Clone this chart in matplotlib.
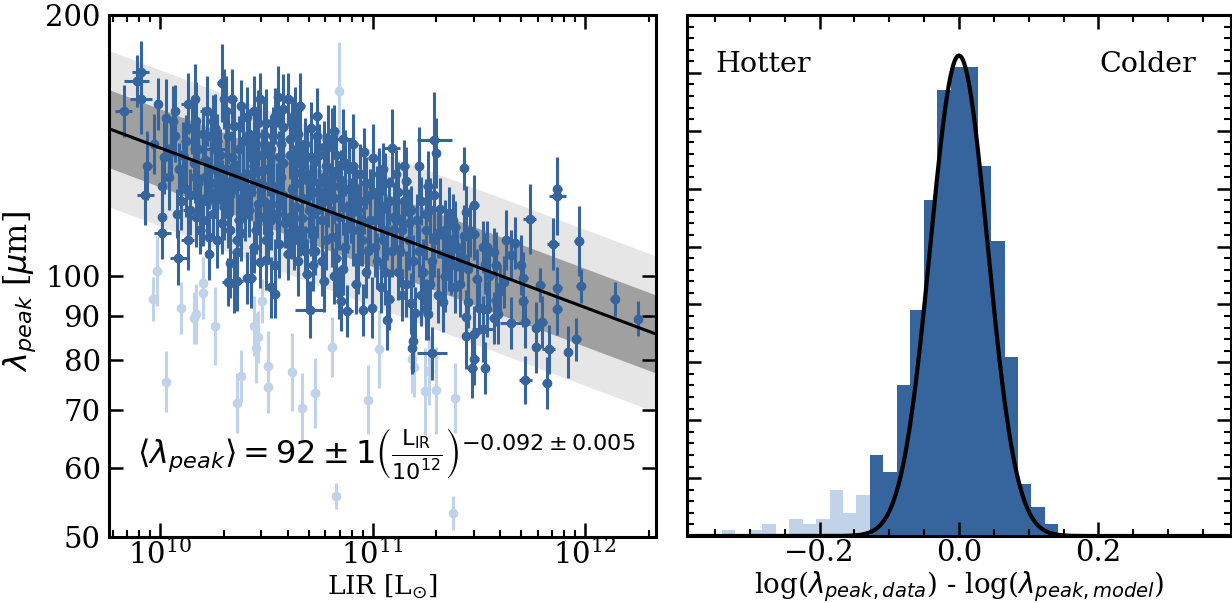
import numpy as np
import matplotlib
matplotlib.use("Agg")
import matplotlib.pyplot as plt
from matplotlib.ticker import FixedLocator, NullLocator, NullFormatter, MultipleLocator, LogLocator

# ---------------- data ----------------
fit_norm = 92.0
fit_slope = -0.092
band_1sig = 0.045   # dex
band_2sig = 0.09    # dex

dark_logL = [
 9.83, 9.89, 9.91, 9.91, 9.94, 9.93, 9.99, 9.97,
 10.01, 10.01, 10.01, 10.085, 10.06, 10.07, 10.03, 10.09, 10.05, 10.08, 10.04, 10.07, 10.10, 10.02,
 10.12, 10.13, 10.165, 10.165, 10.14, 10.19, 10.17, 10.15, 10.11, 10.18, 10.12, 10.16, 10.19, 10.13, 10.20, 10.18, 10.14, 10.17,
 10.29, 10.30, 10.25, 10.23, 10.27, 10.22, 10.24, 10.26, 10.21, 10.28, 10.23, 10.27, 10.22, 10.25, 10.29, 10.21, 10.26, 10.28, 10.24, 10.20, 10.30, 10.27, 10.23, 10.26, 10.29,
 10.34, 10.35, 10.33, 10.33, 10.36, 10.35, 10.32, 10.36, 10.31, 10.38, 10.32, 10.37, 10.34, 10.31, 10.39, 10.36, 10.33, 10.38, 10.32, 10.37, 10.35, 10.39, 10.31, 10.36, 10.40, 10.34, 10.38,
 10.47, 10.41, 10.49, 10.41, 10.43, 10.47, 10.42, 10.45, 10.48, 10.44, 10.41, 10.46, 10.43, 10.49, 10.42, 10.47, 10.45, 10.50, 10.44, 10.48, 10.43, 10.46, 10.40, 10.49, 10.44, 10.46,
 10.555, 10.60, 10.58, 10.58, 10.50, 10.54, 10.54, 10.52, 10.52, 10.56, 10.51, 10.57, 10.53, 10.58, 10.52, 10.55, 10.59, 10.51, 10.56, 10.60, 10.53, 10.57, 10.55, 10.52, 10.58, 10.50, 10.54, 10.56,
 10.635, 10.67, 10.69, 10.62, 10.65, 10.68, 10.61, 10.66, 10.63, 10.69, 10.62, 10.67, 10.64, 10.61, 10.66, 10.63, 10.68, 10.65, 10.61, 10.69, 10.64, 10.66, 10.70, 10.62, 10.67, 10.64,
 10.72, 10.706, 10.77, 10.79, 10.71, 10.74, 10.77, 10.73, 10.78, 10.71, 10.75, 10.72, 10.79, 10.74, 10.76, 10.71, 10.78, 10.73, 10.76, 10.80, 10.75, 10.72, 10.77, 10.74,
 10.81, 10.86, 10.82, 10.84, 10.85, 10.88, 10.83, 10.87, 10.81, 10.85, 10.89, 10.82, 10.86, 10.84, 10.88, 10.81, 10.87, 10.83, 10.86, 10.89, 10.84, 10.90, 10.82,
 10.955, 10.998, 11.00, 10.91, 10.94, 10.97, 10.92, 10.96, 10.93, 10.99, 10.91, 10.95, 10.98, 10.93, 10.97, 10.92, 10.96, 10.94, 10.99, 10.91,
 11.07, 11.09, 11.03, 11.06, 11.02, 11.08, 11.04, 11.01, 11.07, 11.05, 11.09, 11.02, 11.06, 11.04, 11.08, 11.03, 11.10, 11.05, 11.01,
 11.16, 11.19, 11.185, 11.20, 11.12, 11.15, 11.18, 11.11, 11.14, 11.17, 11.13, 11.19, 11.12, 11.16, 11.14, 11.18, 11.11, 11.17, 11.15,
 11.22, 11.26, 11.29, 11.30, 11.26, 11.25, 11.28, 11.23, 11.27, 11.21, 11.25, 11.29, 11.22, 11.28, 11.24, 11.27, 11.23, 11.29, 11.25,
 11.32, 11.36, 11.38, 11.33, 11.39, 11.31, 11.35, 11.33, 11.37, 11.34, 11.39, 11.31, 11.36, 11.38, 11.34,
 11.43, 11.48, 11.44, 11.46, 11.43, 11.48, 11.42, 11.41, 11.45, 11.49, 11.44, 11.50, 11.48, 11.44, 11.48, 11.47, 11.40, 11.45,
 11.52, 11.53, 11.54, 11.57, 11.58, 11.58, 11.59, 11.57, 11.54, 11.52, 11.53, 11.55,
 11.62, 11.63, 11.67, 11.65, 11.65, 11.70, 11.60,
 11.71, 11.71, 11.72, 11.74, 11.77, 11.77, 11.72, 11.79, 11.80, 11.82, 11.83, 11.85, 11.87, 11.87, 11.87, 11.87, 11.92, 11.96, 11.97, 11.98, 12.14, 12.25,
]

dark_lam = [
 155, 168, 172, 160, 134, 124, 158, 142,
 127, 117, 112, 105, 151, 155, 152, 133, 140, 118, 130, 145, 122, 137,
 143, 158, 160, 130, 119, 121, 151, 148, 138, 140, 126, 135, 113, 110, 146, 128, 124, 117,
 167, 160, 151, 111, 110, 155, 145, 140, 136, 132, 128, 125, 122, 118, 115, 130, 148, 138, 133, 116, 120, 143, 106, 128, 124,
 160, 149, 113, 103.5, 106.5, 98.2, 98.4, 98.7, 155, 157, 145, 140, 137, 133, 130, 127, 124, 121, 118, 116, 134, 143, 127, 110, 124, 129, 112,
 160, 152.5, 145.5, 99.5, 99.6, 103.9, 146, 142, 138, 134, 131, 128, 125, 122, 119, 117, 113, 110, 108, 132, 137, 150, 118, 127, 155, 121,
 161, 160, 156, 148.7, 104.4, 103, 95.4, 97, 140, 137, 133, 130, 127, 124, 121, 118, 115, 112, 109, 106, 145, 142, 126, 116, 135, 150, 153, 121,
 154, 116.6, 100.5, 150, 146, 142, 138, 135, 132, 129, 126, 123, 120, 117, 113, 110, 107, 104, 144, 137, 128, 157, 119, 112, 131, 139,
 103.1, 91.4, 98.6, 143.8, 148, 145, 141, 137, 134, 131, 128, 125, 122, 119, 116, 113, 110, 107, 104, 126, 138, 118, 130, 153,
 141, 143.8, 147, 95.5, 93.7, 91.1, 138, 135, 132, 129, 126, 123, 120, 117, 114, 111, 108, 105, 102, 133, 127, 119, 100,
 91.4, 91.9, 136.7, 134, 131, 128, 125, 122, 119, 116, 113, 110, 107, 104, 101, 98, 139, 115, 124, 142,
 89, 140.5, 131, 128, 125, 122, 119, 116, 113, 110, 107, 104, 101, 97, 94, 121, 117, 133, 108,
 128.6, 84.1, 82.5, 90.7, 125, 122, 119, 116, 113, 110, 107, 104, 101, 98, 95, 93, 131, 115, 134,
 134, 127, 143.5, 138.6, 90.4, 91.5, 81.4, 122, 119, 116, 113, 110, 107, 104, 101, 98, 95, 124, 118,
 119.6, 118.1, 115.9, 93.3, 114, 112, 109, 106, 103, 100, 97, 95, 105, 110, 113,
 133.1, 120.8, 118.6, 112.8, 111.3, 111.9, 105.3, 98, 93.4, 99.1, 89.6, 91.9, 85.7, 85.2, 80.3, 78.4, 108, 102,
 108, 103.3, 107.9, 106.6, 103, 93.8, 90.5, 89.5, 91.6, 86.9, 78.3, 100,
 98.5, 110, 109.2, 105.8, 88.2, 103, 96,
 99.4, 93.5, 88.6, 116.3, 87, 82.9, 75.9, 97.6, 88.6, 75.2, 82.3, 108.9, 125.9, 123.7, 96.8, 91.6, 81.7, 84.5, 109.7, 97.4, 94.1, 89.3,
]

# y errors in milli-dex
dark_yerr = [
 30, 30, 35, 40, 40, 35, 30, 35,
 35, 28, 30, 32, 40, 30, 45, 30, 35, 28, 38, 30, 33, 42,
 30, 35, 40, 30, 28, 35, 45, 30, 38, 30, 32, 40, 28, 35, 30, 42, 30, 35,
 45, 35, 30, 30, 32, 40, 30, 35, 28, 38, 30, 33, 42, 30, 35, 28, 40, 30, 35, 30, 38, 32, 30, 35, 40,
 35, 30, 30, 40, 30, 35, 28, 35, 40, 30, 32, 38, 30, 35, 42, 30, 28, 35, 40, 30, 33, 38, 30, 35, 30, 40, 32,
 30, 35, 40, 30, 35, 30, 28, 38, 30, 35, 42, 30, 32, 38, 30, 35, 28, 40, 30, 35, 30, 38, 32, 30, 40, 35,
 35, 30, 40, 30, 35, 30, 28, 35, 40, 30, 32, 38, 30, 35, 42, 30, 28, 35, 40, 30, 33, 38, 30, 35, 30, 40, 32, 30,
 30, 35, 40, 30, 35, 30, 28, 38, 30, 35, 42, 30, 32, 38, 30, 35, 28, 40, 30, 35, 30, 38, 32, 30, 40, 35,
 30, 33, 35, 40, 30, 35, 30, 28, 38, 30, 35, 42, 30, 32, 38, 30, 35, 28, 40, 30, 35, 30, 38, 32,
 45, 35, 30, 30, 35, 30, 28, 38, 30, 35, 42, 30, 32, 38, 30, 35, 28, 40, 30, 35, 30, 38, 32,
 30, 35, 40, 30, 35, 30, 28, 38, 30, 35, 42, 30, 32, 38, 30, 35, 28, 40, 30, 35,
 35, 45, 30, 35, 30, 28, 38, 30, 35, 42, 30, 32, 38, 30, 35, 28, 40, 30, 35,
 40, 35, 30, 30, 35, 30, 28, 38, 30, 35, 42, 30, 32, 38, 30, 35, 28, 40, 30,
 45, 40, 55, 40, 30, 35, 30, 28, 38, 30, 35, 42, 30, 32, 38, 30, 35, 28, 40,
 35, 30, 30, 35, 30, 28, 38, 30, 35, 42, 30, 32, 38, 30, 35,
 25, 35, 30, 30, 35, 30, 28, 38, 30, 35, 32, 30, 32, 38, 30, 35, 28, 40,
 30, 35, 30, 28, 38, 30, 35, 30, 32, 38, 30, 35,
 30, 35, 30, 28, 30, 35, 30,
 30, 30, 30, 40, 30, 30, 28, 20, 30, 30, 28, 30, 30, 45, 25, 30, 30, 25, 40, 20, 20, 20,
]

# x errors in milli-dex
dark_xerr = [
 40, 60, 40, 50, 20, 40, 20, 20,
 20, 20, 40, 40, 20, 20, 20, 20, 20, 20, 20, 20, 20, 20,
 20, 30, 20, 20, 30, 20, 20, 20, 20, 40, 20, 20, 20, 30, 20, 20, 20, 20,
 20, 20, 20, 20, 20, 30, 20, 50, 20, 20, 20, 20, 20, 20, 20, 30, 20, 20, 20, 20, 20, 20, 20, 20, 20,
 20, 20, 20, 20, 20, 20, 30, 30, 20, 20, 20, 20, 20, 40, 20, 20, 20, 20, 20, 20, 20, 20, 20, 20, 20, 20, 20,
 20, 20, 20, 20, 20, 20, 20, 20, 20, 20, 20, 30, 20, 20, 20, 20, 20, 20, 20, 20, 20, 20, 20, 20, 20, 20,
 20, 20, 20, 20, 20, 20, 20, 20, 20, 20, 20, 20, 20, 20, 20, 20, 20, 20, 20, 20, 20, 20, 20, 20, 20, 20, 20, 20,
 20, 30, 20, 20, 20, 20, 20, 20, 20, 20, 20, 20, 20, 20, 20, 20, 20, 20, 20, 20, 20, 20, 20, 20, 20, 20,
 20, 70, 20, 30, 20, 20, 20, 20, 20, 20, 20, 20, 20, 20, 20, 20, 20, 20, 20, 20, 20, 20, 20, 20,
 20, 50, 20, 20, 20, 30, 20, 20, 20, 20, 20, 20, 20, 20, 20, 20, 20, 20, 20, 20, 20, 20, 20,
 20, 20, 20, 20, 20, 20, 20, 20, 20, 20, 20, 20, 20, 20, 20, 20, 20, 20, 20, 20,
 20, 40, 20, 20, 20, 20, 20, 20, 20, 20, 20, 20, 20, 20, 20, 20, 20, 20, 20,
 20, 20, 20, 20, 20, 20, 20, 20, 20, 20, 20, 20, 20, 20, 20, 20, 20, 20, 20,
 20, 20, 82, 20, 20, 20, 70, 20, 20, 20, 20, 20, 20, 20, 20, 20, 20, 20, 20,
 20, 20, 20, 20, 20, 20, 20, 20, 20, 20, 20, 20, 20, 20, 20,
 20, 20, 20, 20, 20, 20, 20, 20, 20, 20, 20, 20, 20, 20, 20, 20, 20, 20,
 20, 20, 20, 20, 20, 20, 20, 20, 20, 50, 20, 20,
 20, 20, 20, 20, 50, 20, 20,
 20, 20, 20, 30, 20, 20, 30, 20, 20, 20, 30, 30, 20, 40, 20, 20, 20, 20, 20, 20, 20, 20,
]

light_logL = [9.967, 9.986, 10.03, 10.10, 10.16, 10.17, 10.20, 10.20, 10.26, 10.36, 10.38,
              10.44, 10.45, 10.46, 10.48, 10.51, 10.51, 10.62, 10.67, 10.73, 10.81, 10.828,
              10.98, 11.03, 11.186, 11.195, 11.247, 11.266, 11.30, 11.39, 11.38, 10.842]
light_lam = [94.1, 101.3, 75.5, 91.9, 89.4, 90.4, 95.6, 98.2, 87.6, 71.4, 76.7,
             87.6, 82.6, 85.1, 93.6, 78.8, 74.5, 77.5, 70.4, 73.3, 82.8, 55.7,
             72.0, 82.3, 80.3, 78.6, 73.6, 77.8, 73.8, 72.3, 53.3, 163.4]
light_yerr = [25, 40, 35, 30, 30, 35, 30, 30, 45, 35, 30,
              35, 40, 30, 25, 40, 30, 45, 40, 40, 35, 15,
              40, 45, 40, 35, 50, 40, 50, 40, 20, 57]

# histogram of residuals (counts per bin)
hist_light = [1, 0, 1, 2, 0, 3, 2, 3, 8, 4, 7, 0, 0, 0, 0, 0, 0, 0, 0, 0, 0, 0, 0, 0, 0]
hist_dark = [0, 0, 0, 0, 0, 0, 0, 0, 0, 0, 0, 14, 11, 26, 39, 58, 77, 81, 81, 64, 51, 31, 9, 5, 2]
hist_start = -0.340
hist_binw = 0.0193
gauss_amp = 83.0
gauss_mu = 0.0
gauss_sigma = 0.041

assert len(dark_logL) == len(dark_lam) == len(dark_yerr) == len(dark_xerr)
assert len(light_logL) == len(light_lam) == len(light_yerr)

# ---------------- style ----------------
plt.rcParams['font.family'] = ['DejaVu Serif']
plt.rcParams['mathtext.fontset'] = 'dejavusans'
plt.rcParams['axes.linewidth'] = 2.2

DARK = '#36659d'
LIGHT = '#c1d3e9'
TICKFS = 21

fig = plt.figure(figsize=(12.32, 6.03), dpi=100)
ax1 = fig.add_axes([109/1232, 66/603, 547/1232, 522/603])
ax2 = fig.add_axes([687/1232, 67/603, 544/1232, 521/603])

# ---------------- left panel ----------------
def model(L):
    return fit_norm * (L / 1e12) ** fit_slope

Lgrid = np.logspace(9.5, 12.6, 200)
mg = model(Lgrid)
ax1.fill_between(Lgrid, mg * 10**(-band_2sig), mg * 10**band_2sig, color='#e6e6e6', lw=0, zorder=0)
ax1.fill_between(Lgrid, mg * 10**(-band_1sig), mg * 10**band_1sig, color='#a0a0a0', lw=0, zorder=0.5)

lL = np.array(light_logL); lm = np.array(light_lam); le = np.array(light_yerr) / 1000.
ax1.errorbar(10**lL, lm, yerr=[lm * (1 - 10**(-le)), lm * (10**le - 1)],
             fmt='o', color=LIGHT, ms=6, elinewidth=2.2, capsize=0, zorder=1)

dL = np.array(dark_logL); dm = np.array(dark_lam)
dy = np.array(dark_yerr) / 1000.; dx = np.array(dark_xerr) / 1000.
xv = 10**dL
ax1.errorbar(xv, dm, yerr=[dm * (1 - 10**(-dy)), dm * (10**dy - 1)],
             xerr=[xv * (1 - 10**(-dx)), xv * (10**dx - 1)],
             fmt='o', color=DARK, ms=6, elinewidth=2.2, capsize=0, zorder=2)

ax1.plot(Lgrid, mg, color='black', lw=2.2, zorder=3)

ax1.set_xscale('log')
ax1.set_yscale('log')
ax1.set_xlim(5.75e9, 2.16e12)
ax1.set_ylim(50, 200)
ax1.yaxis.set_major_locator(FixedLocator([50, 60, 70, 80, 90, 100, 200]))
ax1.yaxis.set_minor_locator(NullLocator())
ax1.set_yticklabels(['50', '60', '70', '80', '90', '100', '200'])
ax1.xaxis.set_major_locator(LogLocator(base=10, numticks=10))
ax1.xaxis.set_minor_locator(LogLocator(base=10, subs=np.arange(2, 10), numticks=10))
ax1.xaxis.set_minor_formatter(NullFormatter())
ax1.tick_params(which='both', direction='in', top=True, right=True, labelsize=TICKFS)
ax1.tick_params(which='major', length=10, width=1.8, pad=2)
ax1.tick_params(which='minor', length=5, width=1.5)
ax1.tick_params(axis='y', which='major', pad=6)

ax1.set_xlabel(r'LIR [L$_{\odot}$]', fontsize=19)
ax1.xaxis.set_label_coords(0.5, -0.067)
ax1.set_ylabel(r'$\lambda_{peak}$ [$\mu$m]', fontsize=23)
ax1.yaxis.set_label_coords(-0.13, 0.47)

ax1.text(0.051, 0.16,
         r'$\langle\lambda_{peak}\rangle = 92 \pm 1 \left(\frac{\mathrm{L_{IR}}}{10^{12}}\right)^{-0.092 \pm 0.005}$',
         transform=ax1.transAxes, fontsize=23, va='center', ha='left', zorder=5)

# ---------------- right panel ----------------
nb = len(hist_dark)
edges = hist_start + hist_binw * np.arange(nb)
ax2.bar(edges, hist_light, width=hist_binw, align='edge', color=LIGHT, lw=0)
ax2.bar(edges, hist_dark, width=hist_binw, align='edge', color=DARK, lw=0)

xg = np.linspace(-0.39, 0.39, 600)
ax2.plot(xg, gauss_amp * np.exp(-0.5 * ((xg - gauss_mu) / gauss_sigma) ** 2), color='black', lw=3)

ax2.set_xlim(-0.39, 0.39)
ax2.set_ylim(0, 90)
ax2.xaxis.set_major_locator(MultipleLocator(0.2))
ax2.xaxis.set_minor_locator(MultipleLocator(0.05))
ax2.yaxis.set_major_locator(MultipleLocator(10))
ax2.yaxis.set_minor_locator(MultipleLocator(2))
ax2.tick_params(which='both', direction='in', top=True, right=True, labelsize=TICKFS)
ax2.tick_params(which='major', length=10, width=1.8, pad=2)
ax2.tick_params(which='minor', length=5, width=1.5)
ax2.tick_params(axis='y', labelleft=False)
ax2.set_xlabel(r'log($\lambda_{peak, data}$) - log($\lambda_{peak, model}$)', fontsize=20)
ax2.xaxis.set_label_coords(0.5, -0.064)

ax2.text(0.053, 0.905, 'Hotter', transform=ax2.transAxes, fontsize=20.5, ha='left', va='center')
ax2.text(0.936, 0.905, 'Colder', transform=ax2.transAxes, fontsize=20.5, ha='right', va='center')

fig.savefig('out.png', dpi=100)
